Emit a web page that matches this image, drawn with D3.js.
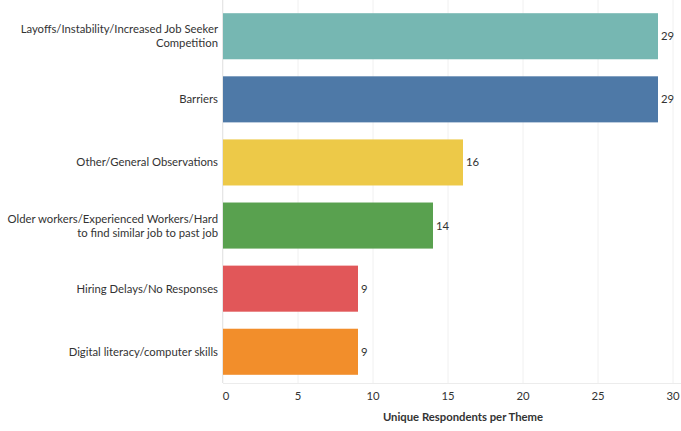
<!DOCTYPE html>
<html>
<head>
<meta charset="utf-8">
<script src="https://cdn.jsdelivr.net/npm/d3@7"></script>
<style>
  body { margin: 0; background: #fff; }
  text { font-family: "Lato", "Open Sans", sans-serif; fill: #333; }
</style>
</head>
<body>
<div id="chart"></div>
<script>
// data
var themes = [
  ["Layoffs/Instability/Increased Job Seeker", "Competition"],
  ["Barriers"],
  ["Other/General Observations"],
  ["Older workers/Experienced Workers/Hard", "to find similar job to past job"],
  ["Hiring Delays/No Responses"],
  ["Digital literacy/computer skills"]
];
var counts = [29, 29, 16, 14, 9, 9];
var colors = ["#76b7b2", "#4e79a7", "#edc948", "#59a14f", "#e15759", "#f28e2b"];
var xTicks = [0, 5, 10, 15, 20, 25, 30];

var width = 681, height = 431;
var plotLeft = 223, plotRight = 673, plotTop = 5, plotBottom = 383;

var svg = d3.select("#chart").append("svg")
  .attr("width", width)
  .attr("height", height);

var x = d3.scaleLinear().domain([0, 30]).range([plotLeft, plotRight]);
var y = d3.scaleBand().domain(d3.range(themes.length)).range([plotTop, plotBottom])
  .paddingInner(0.27).paddingOuter(0.13);

// gridlines
svg.append("g").selectAll("line")
  .data(xTicks)
  .enter().append("line")
  .attr("x1", function(d) { return x(d); })
  .attr("x2", function(d) { return x(d); })
  .attr("y1", 0).attr("y2", plotBottom)
  .attr("stroke", "#f0f0f0").attr("stroke-width", 1);

// left border + bottom axis line
svg.append("line")
  .attr("x1", plotLeft - 0.5).attr("x2", plotLeft - 0.5)
  .attr("y1", 0).attr("y2", plotBottom)
  .attr("stroke", "#e6e6e6");
svg.append("line")
  .attr("x1", plotLeft).attr("x2", width)
  .attr("y1", plotBottom + 0.5).attr("y2", plotBottom + 0.5)
  .attr("stroke", "#ececec");

// bars
svg.append("g").selectAll("rect")
  .data(counts)
  .enter().append("rect")
  .attr("x", x(0))
  .attr("y", function(d, i) { return y(i); })
  .attr("width", function(d) { return x(d) - x(0); })
  .attr("height", y.bandwidth())
  .attr("fill", function(d, i) { return colors[i]; });

// value labels
svg.append("g").selectAll("text")
  .data(counts)
  .enter().append("text")
  .attr("x", function(d) { return x(d) + 3; })
  .attr("y", function(d, i) { return y(i) + y.bandwidth() / 2; })
  .attr("dy", "0.35em")
  .attr("font-size", 11.3)
  .text(function(d) { return d; });

// category labels
var cats = svg.append("g").selectAll("text")
  .data(themes)
  .enter().append("text")
  .attr("text-anchor", "end")
  .attr("font-size", 11.3)
  .attr("y", function(d, i) { return y(i) + y.bandwidth() / 2; });
cats.each(function(d) {
  var t = d3.select(this);
  var lh = 14;
  var start = -(d.length - 1) * lh / 2;
  d.forEach(function(line, j) {
    t.append("tspan")
      .attr("x", 218)
      .attr("dy", j === 0 ? (start + 4) : lh)
      .text(line);
  });
});

// x tick labels
svg.append("g").selectAll("text")
  .data(xTicks)
  .enter().append("text")
  .attr("x", function(d) { return d === 0 ? x(d) + 3 : x(d); })
  .attr("y", 400)
  .attr("text-anchor", "middle")
  .attr("font-size", 11.3)
  .attr("fill", "#555")
  .text(function(d) { return d; });

// axis title
svg.append("text")
  .attr("x", 463)
  .attr("y", 421)
  .attr("text-anchor", "middle")
  .attr("font-size", 11.3)
  .attr("font-weight", "bold")
  .text("Unique Respondents per Theme");
</script>
</body>
</html>
